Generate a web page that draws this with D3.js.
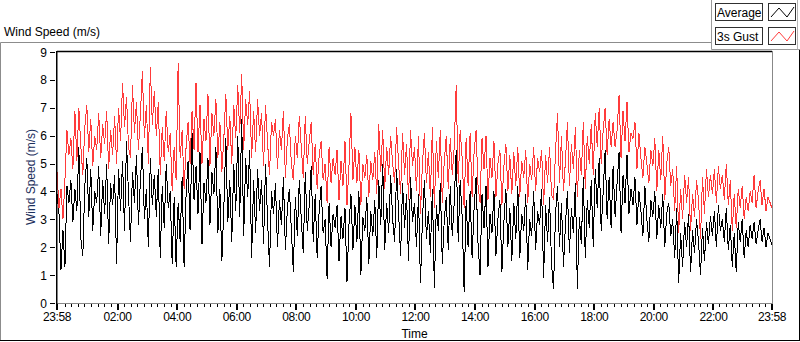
<!DOCTYPE html>
<html>
<head>
<meta charset="utf-8">
<script src="https://cdn.jsdelivr.net/npm/d3@7"></script>
<style>
  html, body { margin: 0; padding: 0; background: #fff; }
  svg { display: block; font-family: "Segoe UI", "Liberation Sans", Arial, sans-serif; }
</style>
</head>
<body>
<div id="chart"></div>
<script>
const averageSpeed = [
  3.9,3.2,1.2,2.6,1.3,4.2,3.6,4.4,2.9,4.1, 3.3,5.6,2.3,1.7,4.2,5.2,3.1,4.8,2.6,4.0,
  3.6,4.9,2.4,4.4,3.2,5.0,2.1,4.3,3.5,4.6, 1.4,4.8,3.3,5.1,2.6,5.8,3.9,2.2,4.7,3.6,
  5.3,2.8,4.4,5.6,3.0,4.1,2.0,5.2,3.5,4.6, 3.1,4.8,1.6,4.2,2.7,5.0,3.4,4.0,1.4,3.8,
  1.3,3.6,2.2,4.5,1.3,3.9,5.1,2.6,6.1,3.7, 4.9,3.2,5.4,2.1,4.3,3.6,5.2,2.8,4.7,3.9,
  5.6,2.5,4.1,1.5,3.4,5.9,2.9,4.4,2.2,5.0, 3.3,6.0,3.1,6.6,2.4,5.2,3.8,5.5,1.6,4.4,
  2.5,4.8,3.3,4.4,2.1,5.0,3.0,1.3,4.0,3.2, 4.3,2.0,3.7,2.8,4.5,1.9,3.4,4.1,2.6,1.1,
  3.8,2.4,4.4,3.0,1.8,4.7,2.6,3.5,4.9,2.2, 3.9,1.6,3.3,4.2,2.5,3.0,0.85,3.6,2.0,3.2,
  2.7,3.5,1.5,3.1,2.3,3.4,0.75,2.8,3.9,1.9, 3.5,2.2,4.0,1.0,3.1,2.6,3.8,1.4,3.3,2.4,
  3.7,1.6,4.4,2.8,5.0,1.9,3.6,2.5,4.6,3.0, 2.2,4.8,3.2,1.7,4.3,2.7,3.9,1.5,4.5,2.9,
  3.6,2.0,3.9,0.7,3.0,4.4,2.3,3.3,1.8,4.1, 0.55,3.5,2.6,4.3,1.4,3.0,3.8,1.9,4.2,2.4,
  3.6,5.5,2.2,4.4,3.1,0.4,3.7,2.0,4.0,1.6, 3.4,4.5,2.1,1.0,3.9,2.7,4.2,1.3,3.2,2.5,
  4.0,1.7,3.0,3.7,1.1,2.9,4.1,2.0,3.4,1.5, 3.6,2.3,4.2,1.6,3.2,2.6,3.9,1.2,3.0,2.4,
  4.0,1.9,3.3,2.8,4.1,0.9,3.5,2.2,3.8,1.4, 0.5,3.2,4.2,2.0,3.6,1.3,2.8,4.0,1.8,3.4,
  2.5,4.3,0.5,3.1,2.1,4.5,1.6,3.7,2.7,4.4, 2.0,4.8,3.4,5.2,2.6,4.0,5.5,3.0,4.5,2.7,
  4.9,3.1,4.3,5.4,2.5,4.6,3.6,5.3,3.2,4.1, 3.5,4.5,2.8,4.0,3.3,2.4,4.2,3.0,2.2,3.7,
  3.1,4.0,2.3,3.5,2.7,3.9,2.0,3.2,3.6,2.4, 3.0,1.6,3.4,0.7,2.5,1.3,2.9,2.0,3.2,1.1,
  2.6,1.8,3.0,2.2,1.0,2.7,1.5,2.9,2.1,3.1, 2.4,3.3,2.0,3.5,2.6,3.0,2.2,3.4,1.9,2.8,
  1.3,2.5,1.1,2.9,2.2,3.0,1.6,2.6,2.0,2.8, 2.3,2.9,2.1,2.6,3.0,2.2,2.7,2.0,2.5,2.3,2.1
];
const gustSpeed = [
  4.7,3.4,4.1,3.0,4.4,6.2,5.3,5.9,4.8,6.9, 5.1,7.0,5.6,4.6,6.3,7.1,5.4,6.6,4.9,6.0,
  5.5,6.8,5.2,6.4,5.7,6.9,4.8,6.2,5.3,6.7, 5.0,7.0,5.8,7.9,6.3,7.4,5.6,5.2,7.8,6.1,
  7.2,5.5,6.8,8.3,5.9,7.1,5.0,8.45,6.4,7.6, 6.0,7.2,4.6,6.3,5.1,6.9,5.4,6.1,4.0,5.6,
  4.4,8.6,5.2,6.2,4.1,5.6,6.5,5.0,6.9,5.5, 7.9,5.4,7.1,5.0,6.6,5.8,7.5,4.9,6.8,6.0,
  7.3,5.2,6.5,4.7,5.9,7.5,5.5,6.7,5.0,7.1, 5.9,7.8,6.1,8.2,5.5,7.3,6.4,7.6,5.2,6.9,
  5.4,7.3,6.0,6.8,4.9,7.1,5.8,4.6,6.5,6.0, 6.6,4.8,6.2,5.5,6.9,4.5,5.9,6.4,5.0,4.4,
  6.0,5.2,6.7,5.6,4.5,6.7,5.0,5.8,6.5,4.6, 5.7,4.1,5.3,5.8,4.4,5.0,3.6,5.6,4.3,5.2,
  4.6,5.5,3.7,5.1,4.2,5.8,3.5,4.9,6.8,4.4, 5.6,4.3,5.5,3.5,5.0,4.5,5.3,3.8,5.1,4.4,
  5.4,3.9,6.4,4.7,6.2,4.1,5.6,4.6,6.0,5.0, 4.3,6.3,5.0,3.9,6.1,4.6,5.7,3.7,6.2,4.9,
  5.6,4.0,6.0,3.2,5.0,6.1,4.3,5.4,3.8,6.3, 3.4,5.8,4.5,6.2,3.6,5.1,6.0,4.1,5.9,4.6,
  5.6,7.8,4.3,6.2,5.2,3.4,5.9,4.2,6.1,3.8, 5.4,6.2,4.2,3.6,5.9,4.8,6.0,3.7,5.2,4.5,
  5.8,3.8,5.0,5.5,3.5,4.9,5.7,4.0,5.3,3.9, 5.4,4.2,5.6,3.8,5.1,4.5,5.5,3.6,5.0,4.4,
  5.6,4.0,5.2,4.7,5.5,3.5,5.3,4.3,5.6,3.9, 3.7,5.4,6.8,4.3,6.0,4.0,5.1,6.5,4.2,5.7,
  4.8,6.3,3.8,5.5,4.6,6.5,4.1,6.0,5.0,6.4, 4.6,6.8,5.6,7.0,5.0,6.2,7.0,5.3,6.6,5.6,
  6.5,5.6,6.2,7.45,5.2,6.9,5.8,7.2,5.4,6.1, 5.9,6.5,4.8,6.1,5.2,4.5,5.6,5.0,4.3,5.5,
  4.9,5.9,4.0,5.5,4.4,6.0,3.7,5.0,5.6,4.2, 4.8,3.3,4.9,2.5,4.1,3.0,4.6,3.6,4.5,2.6,
  3.9,3.1,4.4,3.7,2.3,4.5,3.2,4.8,3.8,4.6, 3.9,4.8,3.6,4.9,4.1,4.6,3.7,5.0,3.5,4.4,
  2.6,3.9,2.7,4.1,3.4,4.2,3.0,3.8,3.3,4.0, 3.6,4.6,3.4,4.0,4.4,3.5,4.1,3.3,3.8,3.6,3.4
];
const sampleMinutes = 4;
const timeTickLabels = ["23:58","02:00","04:00","06:00","08:00","10:00","12:00",
                        "14:00","16:00","18:00","20:00","22:00","23:58"];
const speedTicks = [0,1,2,3,4,5,6,7,8,9];
const legendItems = [
  { name: "Average", color: "#000000" },
  { name: "3s Gust", color: "#ff3b3b" }
];

(function(){
    const width = 800;
    const height = 342;
    const plot = { left: 57, right: 772, top: 51, bottom: 303 };

    const svg = d3.select("#chart")
        .append("svg")
        .attr("width", width)
        .attr("height", height);

    // Times: 23:58 on day 0 to 23:58 on day 1
    const start = new Date(2020, 0, 1, 23, 58);
    const end = new Date(2020, 0, 2, 23, 58);
    const timeAt = i => new Date(start.getTime() + i * sampleMinutes * 60000);

    const x = d3.scaleTime().domain([start, end]).range([plot.left, plot.right]);
    const y = d3.scaleLinear().domain([0, 9]).range([plot.bottom, plot.top + 1]);

    // Outer panel (raised look)
    svg.append("line").attr("x1", 0.5).attr("y1", 42.5).attr("x2", 712).attr("y2", 42.5)
        .attr("stroke", "#8c8c8c");
    svg.append("line").attr("x1", 0.5).attr("y1", 42.5).attr("x2", 0.5).attr("y2", 341)
        .attr("stroke", "#8c8c8c");
    svg.append("line").attr("x1", 0).attr("y1", 340.5).attr("x2", 800).attr("y2", 340.5)
        .attr("stroke", "#000");
    svg.append("line").attr("x1", 799.5).attr("y1", 49).attr("x2", 799.5).attr("y2", 341)
        .attr("stroke", "#000");

    // Legend panel
    svg.append("line").attr("x1", 711.5).attr("y1", 0).attr("x2", 711.5).attr("y2", 49.5)
        .attr("stroke", "#9a9a9a");
    svg.append("line").attr("x1", 711.5).attr("y1", 49.5).attr("x2", 800).attr("y2", 49.5)
        .attr("stroke", "#9a9a9a");
    svg.append("line").attr("x1", 797.5).attr("y1", 0).attr("x2", 797.5).attr("y2", 49.5)
        .attr("stroke", "#b4b4b4");

    // Title
    svg.append("text")
        .attr("x", 4)
        .attr("y", 36)
        .style("font-size", "12px")
        .style("fill", "#000")
        .text("Wind Speed (m/s)");

    // Data lines (clipped to plot)
    svg.append("clipPath").attr("id", "plotclip")
        .append("rect")
        .attr("x", plot.left).attr("y", plot.top)
        .attr("width", plot.right - plot.left).attr("height", plot.bottom - plot.top);

    const line = d3.line()
        .x((d, i) => x(timeAt(i)))
        .y(d => y(d));

    const g = svg.append("g").attr("clip-path", "url(#plotclip)");
    g.append("path")
        .datum(averageSpeed)
        .attr("d", line)
        .attr("fill", "none")
        .attr("stroke", legendItems[0].color)
        .attr("stroke-width", 1)
        .style("shape-rendering", "crispEdges");
    g.append("path")
        .datum(gustSpeed)
        .attr("d", line)
        .attr("fill", "none")
        .attr("stroke", legendItems[1].color)
        .attr("stroke-width", 1)
        .style("shape-rendering", "crispEdges");

    // Plot frame: dark top/left, grey bottom/right
    svg.append("line").attr("x1", plot.left).attr("y1", plot.top + 0.5)
        .attr("x2", plot.right).attr("y2", plot.top + 0.5)
        .attr("stroke", "#000").attr("stroke-width", 1.5);
    svg.append("line").attr("x1", plot.right + 0.5).attr("y1", plot.top)
        .attr("x2", plot.right + 0.5).attr("y2", plot.bottom + 1)
        .attr("stroke", "#888");
    svg.append("line").attr("x1", plot.left).attr("y1", plot.bottom + 0.5)
        .attr("x2", plot.right + 1).attr("y2", plot.bottom + 0.5)
        .attr("stroke", "#888");
    svg.append("line").attr("x1", plot.left - 0.25).attr("y1", plot.top)
        .attr("x2", plot.left - 0.25).attr("y2", plot.bottom + 1)
        .attr("stroke", "#000").attr("stroke-width", 1.5);

    // Y axis ticks and labels
    const yTicks = svg.append("g");
    yTicks.selectAll("line")
        .data(speedTicks)
        .enter()
        .append("line")
        .attr("x1", 50).attr("x2", 55)
        .attr("y1", d => Math.round(y(d)) + 0.5)
        .attr("y2", d => Math.round(y(d)) + 0.5)
        .attr("stroke", "#000");
    yTicks.selectAll("text")
        .data(speedTicks)
        .enter()
        .append("text")
        .attr("x", 47)
        .attr("y", d => y(d) + 4.5)
        .attr("text-anchor", "end")
        .style("font-size", "12px")
        .style("fill", "#000")
        .text(d => d);

    svg.append("text")
        .attr("transform", "translate(35," + ((plot.top + plot.bottom) / 2) + ") rotate(-90)")
        .attr("text-anchor", "middle")
        .style("font-size", "12px")
        .style("fill", "#1c2f5c")
        .text("Wind Speed (m/s)");

    // X axis: major ticks at the labelled times, 8 minor ticks between each pair
    const majorTimes = timeTickLabels.map((lab, i) => {
        if (i === 0) return start;
        if (i === timeTickLabels.length - 1) return end;
        const [h, m] = lab.split(":").map(Number);
        return new Date(2020, 0, 2, h, m);
    });
    const minorTimes = [];
    for (let i = 1; i < majorTimes.length; i++) {
        const step = 120 * 60000 / 9;
        for (let k = 1; k <= 8; k++) {
            const t = new Date(majorTimes[i].getTime() - k * step);
            if (t > majorTimes[i - 1]) minorTimes.push(t);
        }
    }

    const xAxis = svg.append("g");
    xAxis.selectAll(".minor")
        .data(minorTimes)
        .enter()
        .append("line")
        .attr("x1", d => Math.round(x(d)) + 0.5)
        .attr("x2", d => Math.round(x(d)) + 0.5)
        .attr("y1", plot.bottom + 1).attr("y2", plot.bottom + 4)
        .attr("stroke", "#000");
    xAxis.selectAll(".major")
        .data(majorTimes)
        .enter()
        .append("line")
        .attr("x1", d => Math.round(x(d)))
        .attr("x2", d => Math.round(x(d)))
        .attr("y1", plot.bottom + 1).attr("y2", plot.bottom + 7)
        .attr("stroke", "#000")
        .attr("stroke-width", 2);
    xAxis.selectAll("text")
        .data(majorTimes)
        .enter()
        .append("text")
        .attr("x", d => x(d))
        .attr("y", 321)
        .attr("text-anchor", "middle")
        .style("font-size", "12px")
        .style("letter-spacing", "-0.4px")
        .style("fill", "#000")
        .text((d, i) => timeTickLabels[i]);

    svg.append("text")
        .attr("x", (plot.left + plot.right) / 2)
        .attr("y", 338)
        .attr("text-anchor", "middle")
        .style("font-size", "12px")
        .style("fill", "#000")
        .text("Time");

    // Legend boxes
    const legend = svg.append("g");
    legendItems.forEach((item, i) => {
        const top = 3 + i * 24;
        legend.append("rect")
            .attr("x", 715.5).attr("y", top + 0.5)
            .attr("width", 47).attr("height", 17)
            .attr("fill", "#fff")
            .attr("stroke", "#303030");
        legend.append("text")
            .attr("x", 717)
            .attr("y", top + 13.5)
            .style("font-size", "12px")
            .style("fill", "#000")
            .text(item.name);
        legend.append("rect")
            .attr("x", 768.5).attr("y", top + 0.5)
            .attr("width", 27).attr("height", 17)
            .attr("fill", "#fff")
            .attr("stroke", "#303030");
        const pts = [[771, top + 14], [779, top + 5], [787, top + 14], [794, top + 4]];
        legend.append("path")
            .attr("d", d3.line()(pts))
            .attr("fill", "none")
            .attr("stroke", item.color)
            .attr("stroke-width", 1);
    });
})();
</script>
</body>
</html>
